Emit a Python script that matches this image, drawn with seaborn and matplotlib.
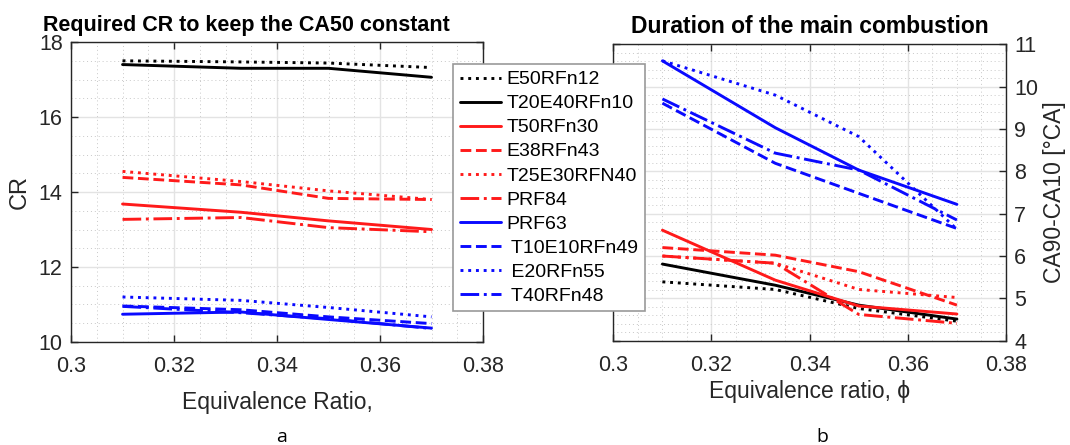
import matplotlib
matplotlib.use("Agg")
import matplotlib.pyplot as plt
from matplotlib.ticker import MultipleLocator
import pandas as pd
import seaborn as sns

# Equivalence ratio sweep shared by both panels
phi = [0.31, 0.333, 0.35, 0.37]

fuels = ["E50RFn12", "T20E40RFn10", "T50RFn30", "E38RFn43", "T25E30RFN40",
         "PRF84", "PRF63", "T10E10RFn49", "E20RFn55", "T40RFn48"]

# Compression ratio needed to hold CA50 constant
cr_e50rfn12 = [17.50, 17.47, 17.44, 17.32]
cr_t20e40rfn10 = [17.40, 17.30, 17.30, 17.06]
cr_t50rfn30 = [13.68, 13.46, 13.23, 13.00]
cr_e38rfn43 = [14.39, 14.19, 13.83, 13.80]
cr_t25e30rfn40 = [14.55, 14.28, 14.03, 13.80]
cr_prf84 = [13.27, 13.32, 13.05, 12.94]
cr_prf63 = [10.74, 10.80, 10.60, 10.37]
cr_t10e10rfn49 = [10.96, 10.86, 10.67, 10.49]
cr_e20rfn55 = [11.20, 11.11, 10.92, 10.67]
cr_t40rfn48 = [10.95, 10.78, 10.62, 10.36]

# Main combustion duration CA90-CA10 [°CA]
dur_e50rfn12 = [5.39, 5.21, 4.76, 4.46]
dur_t20e40rfn10 = [5.81, 5.31, 4.84, 4.51]
dur_t50rfn30 = [6.61, 5.43, 4.82, 4.63]
dur_e38rfn43 = [6.20, 6.02, 5.63, 4.84]
dur_t25e30rfn40 = [6.00, 5.83, 5.21, 5.02]
dur_prf84 = [6.00, 5.83, 4.62, 4.41]
dur_prf63 = [10.61, 9.03, 8.03, 7.22]
dur_t10e10rfn49 = [9.61, 8.19, 7.48, 6.65]
dur_e20rfn55 = [10.61, 9.80, 8.82, 6.63]
dur_t40rfn48 = [9.71, 8.43, 8.03, 6.85]

cr_values = [cr_e50rfn12, cr_t20e40rfn10, cr_t50rfn30, cr_e38rfn43, cr_t25e30rfn40,
             cr_prf84, cr_prf63, cr_t10e10rfn49, cr_e20rfn55, cr_t40rfn48]
dur_values = [dur_e50rfn12, dur_t20e40rfn10, dur_t50rfn30, dur_e38rfn43, dur_t25e30rfn40,
              dur_prf84, dur_prf63, dur_t10e10rfn49, dur_e20rfn55, dur_t40rfn48]

legend_labels = ["E50RFn12", "T20E40RFn10", "T50RFn30", "E38RFn43", "T25E30RFN40",
                 "PRF84", "PRF63", " T10E10RFn49", " E20RFn55", " T40RFn48"]

colors = ["#000000", "#000000", "#ff1a1a", "#ff1a1a", "#ff1a1a",
          "#ff1a1a", "#0a0aff", "#0a0aff", "#0a0aff", "#0a0aff"]
styles = [":", "-", "-", "--", ":", "-.", "-", "--", ":", "-."]

rows = []
for f, crv, dv in zip(fuels, cr_values, dur_values):
    for x, c, d in zip(phi, crv, dv):
        rows.append({"fuel": f, "phi": x, "CR": c, "dur": d})
df = pd.DataFrame(rows)

sns.set_theme(style="white")
plt.rcParams["font.family"] = ["Liberation Sans", "DejaVu Sans"]
plt.rcParams["axes.edgecolor"] = "#262626"
plt.rcParams["xtick.color"] = "#262626"
plt.rcParams["ytick.color"] = "#262626"

fig = plt.figure(figsize=(10.7, 4.45), dpi=100)
ax1 = fig.add_axes([0.0664, 0.2315, 0.385, 0.674])
ax2 = fig.add_axes([0.5732, 0.2344, 0.367, 0.666])

for f, lab, col, ls in zip(fuels, legend_labels, colors, styles):
    sub = df[df["fuel"] == f]
    sns.lineplot(data=sub, x="phi", y="CR", ax=ax1, color=col, linestyle=ls,
                 linewidth=2.1, label=lab, legend=False)
    sns.lineplot(data=sub, x="phi", y="dur", ax=ax2, color=col, linestyle=ls,
                 linewidth=2.1, legend=False)


def style_axes(ax, ylim, ymajor, yminor):
    ax.set_xlim(0.3, 0.38)
    ax.set_ylim(*ylim)
    ax.xaxis.set_major_locator(MultipleLocator(0.02))
    ax.xaxis.set_minor_locator(MultipleLocator(0.005))
    ax.yaxis.set_major_locator(MultipleLocator(ymajor))
    ax.yaxis.set_minor_locator(MultipleLocator(yminor))
    ax.grid(True, which="major", color="#e3e3e3", linewidth=1.0, linestyle="-")
    ax.grid(True, which="minor", color="#c8c8c8", linewidth=0.7, linestyle=(0, (1, 3)))
    ax.set_axisbelow(True)
    ax.tick_params(which="major", direction="in", length=5, width=1,
                   top=True, bottom=True, left=True, right=True, labelsize=15.5)
    ax.tick_params(axis="x", which="major", pad=10)
    ax.tick_params(axis="y", which="major", pad=6)
    ax.tick_params(which="minor", length=0)
    for s in ax.spines.values():
        s.set_linewidth(1.0)
        s.set_color("#262626")
    xt = [0.3, 0.32, 0.34, 0.36, 0.38]
    ax.set_xticks(xt)
    ax.set_xticklabels(["0.3", "0.32", "0.34", "0.36", "0.38"])


style_axes(ax1, (10, 18), 2, 0.5)
style_axes(ax2, (4, 11), 1, 0.2)

ax1.set_xlabel("Equivalence Ratio,", fontsize=16.5, color="#262626", labelpad=10)
ax1.set_ylabel("CR", fontsize=17, color="#262626", labelpad=6)
ax1.set_title("Required CR to keep the CA50 constant", fontsize=15.5,
              fontweight="bold", color="black", x=0.425, pad=8)

ax2.yaxis.set_label_position("right")
ax2.tick_params(labelleft=False, labelright=True)
ax2.set_xlabel("Equivalence ratio, ϕ", fontsize=16.5, color="#262626", labelpad=3)
ax2.set_ylabel("CA90-CA10 [°CA]", fontsize=16.5, color="#262626", labelpad=3)
ax2.set_title("Duration of the main combustion", fontsize=16.5,
              fontweight="bold", color="black", pad=8)

handles, labels = ax1.get_legend_handles_labels()
leg = fig.legend(handles, labels, loc="upper left",
                 bbox_to_anchor=(453 / 1070, 1 - 64 / 445),
                 fontsize=14, frameon=True, fancybox=False, framealpha=1,
                 edgecolor="#999999", handlelength=2.1, handletextpad=0.3,
                 labelspacing=0.33, borderpad=0.35, borderaxespad=0)
leg.get_frame().set_linewidth(1.2)
for t in leg.get_texts():
    t.set_color("black")

fig.text(282 / 1070, 1 - 437 / 445, "a", fontsize=14, family="Open Sans",
         ha="center", va="center", color="black")
fig.text(822 / 1070, 1 - 437 / 445, "b", fontsize=14, family="Open Sans",
         ha="center", va="center", color="black")

fig.savefig("out.png", dpi=100)
